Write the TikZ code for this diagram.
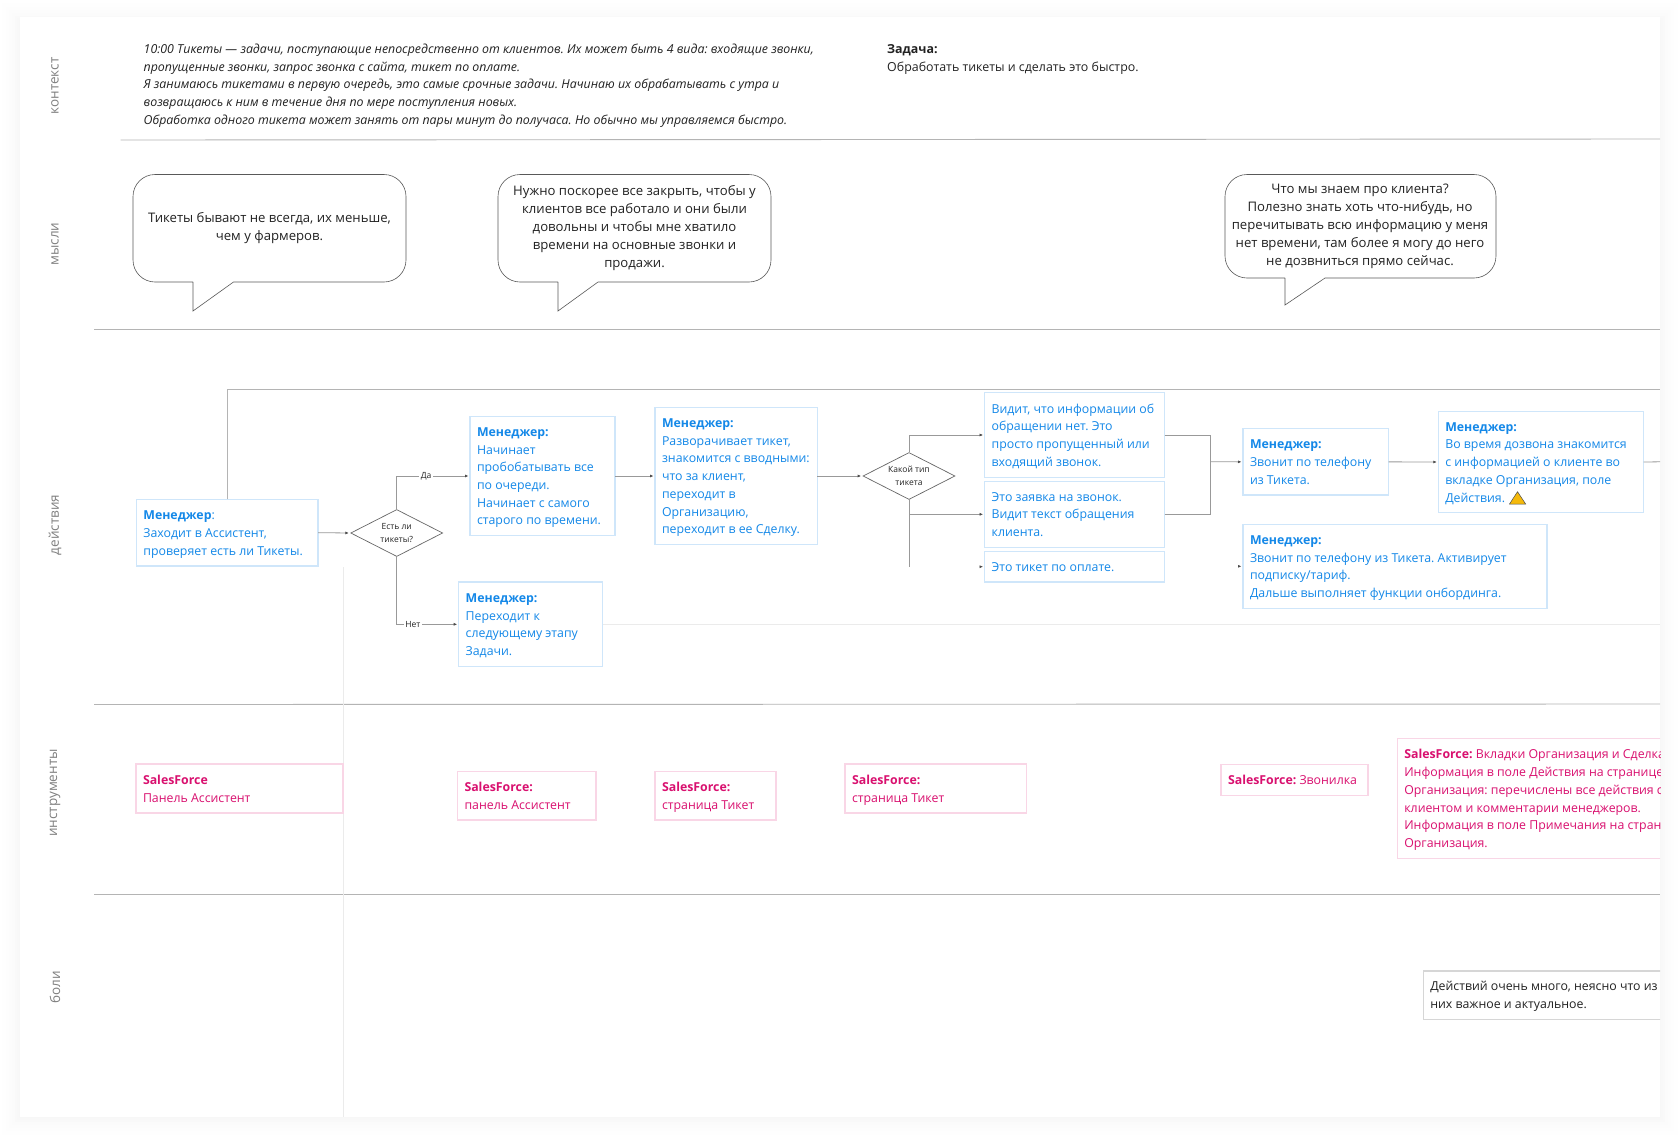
\documentclass[tikz,border=0pt]{standalone}
\usepackage{fontspec}
\setmainfont{Open Sans}
\usetikzlibrary{shapes.geometric,arrows.meta}
\frenchspacing
\definecolor{bluetxt}{HTML}{1488E8}
\definecolor{blueedge}{HTML}{CFE6FA}
\definecolor{pinktxt}{HTML}{D9106F}
\definecolor{pinkedge}{HTML}{F9D6E6}
\definecolor{darktxt}{HTML}{222222}
\definecolor{linegray}{HTML}{999999}
\definecolor{rulegray}{HTML}{B4B4B4}
\definecolor{faint}{HTML}{EBEBEB}
\definecolor{warnfill}{HTML}{F5B90A}
\newcommand{\bx}[7]{%
  \pgfmathsetmacro{\bxw}{#5-#3}%
  \pgfmathsetmacro{\bxh}{#6-#4}%
  \pgfmathsetmacro{\bxt}{#5-#3-14}%
  \node[#2,anchor=north west,minimum width=\bxw pt,minimum height=\bxh pt] (#1) at (#3,#4) {\makebox[\bxt pt][l]{\raisebox{-1.1pt}[\height][\depth]{\begin{tabular}{@{}l@{}}#7\end{tabular}}}};}
\tikzset{
  boxbase/.style={draw,line width=1.1pt,inner xsep=7pt,inner ysep=0pt,outer sep=0pt,font=\fontsize{12.33}{17.7}\selectfont},
  mgr/.style={boxbase,draw=blueedge,text=bluetxt},
  tool/.style={boxbase,draw=pinkedge,text=pinktxt},
  pain/.style={boxbase,draw=black!16,text=darktxt},
  rowlabel/.style={rotate=90,text=black!50,font=\fontsize{13.5}{16}\selectfont},
  thought/.style={align=center,text=darktxt,font=\fontsize{13.15}{18}\selectfont},
  bubble/.style={draw=black!65,line width=0.6pt,fill=white},
  rowrule/.style={draw=rulegray,line width=0.9pt},
  conn/.style={draw=linegray,line width=0.8pt},
  toprule/.style={draw=rulegray,line width=0.9pt},
  arr/.style={conn,-{Latex[length=3.5pt,width=3pt,color=black!70]},shorten >=1.5pt},
  choice/.style={diamond,draw=black!60,line width=0.7pt,aspect=2,inner sep=0pt,minimum width=92pt,minimum height=47pt,align=center,text=darktxt,font=\fontsize{8.5}{13}\selectfont,fill=white},
  branch/.style={fill=white,text=darktxt,inner sep=1.5pt,font=\fontsize{8.5}{10}\selectfont},
}
\begin{document}
\begin{tikzpicture}[x=1pt,y=-1pt]
\useasboundingbox (0,0) rectangle (1680,1141);
\fill[white] (0,0) rectangle (1680,1141);
% soft panel shadow
\foreach \o/\c in {18/99.6,14/99.2,11/98.8,8/98.3,5/97.8,3/97.3,1/96.8}{
  \fill[color=white!\c!black] (20-\o,17-\o+4) rectangle (1660+\o,1117+\o);
}
\fill[white] (20,17) rectangle (1660,1117);

\begin{scope}
\clip (20,17) rectangle (1660,1117);

% rows
\coordinate (r1a) at (120.5,140); \coordinate (r1b) at (1660,139);
\coordinate (r2a) at (94,329.5);  \coordinate (r2b) at (1660,329.5);
\coordinate (r3a) at (94,704.5);  \coordinate (r3b) at (1660,704);
\coordinate (r4a) at (94,894);    \coordinate (r4b) at (1660,894);
\draw[rowrule] (r1a) -- (r1b);
\draw[rowrule] (r2a) -- (r2b);
\draw[rowrule] (r3a) -- (r3b);
\draw[rowrule] (r4a) -- (r4b);
\coordinate (va) at (343,567); \coordinate (vb) at (343,1117);
\draw[draw=faint,line width=0.8pt] (va) -- (vb);

% row labels
\node[rowlabel] (lbl1) at (55,86) {контекст};
\node[rowlabel] (lbl2) at (55,244) {мысли};
\node[rowlabel] (lbl3) at (55,525) {действия};
\node[rowlabel] (lbl4) at (55,793) {инструменты};
\node[rowlabel] (lbl5) at (55,987) {боли};

% context
\node[anchor=west,align=left,text=darktxt,inner sep=0pt,font=\fontsize{12.36}{17.8}\selectfont\itshape] (ctx) at (143.5,85.7) {10:00 Тикеты — задачи, поступающие непосредственно от клиентов. Их может быть 4 вида: входящие звонки,\\
пропущенные звонки, запрос звонка с сайта, тикет по оплате.\\
Я занимаюсь тикетами в первую очередь, это самые срочные задачи. Начинаю их обрабатывать с утра и\\
возвращаюсь к ним в течение дня по мере поступления новых.\\
Обработка одного тикета может занять от пары минут до получаса. Но обычно мы управляемся быстро.};
\node[anchor=west,align=left,text=darktxt,inner sep=0pt,font=\fontsize{12.4}{17.7}\selectfont] (task) at (887,59.3) {\textbf{Задача:}\\Обработать тикеты и сделать это быстро.};

% thoughts
\draw[bubble] (193,282) -- (193,311) -- (233.5,282) [rounded corners=22pt] -- (406,282) -- (406,174.5) -- (133,174.5) -- (133,282) -- (193,282);
\node[thought] (th1) at (269.5,228.5) {Тикеты бывают не всегда, их меньше,\\чем у фармеров.};
\draw[bubble] (558,282) -- (558,311) -- (598,282) [rounded corners=22pt] -- (771,282) -- (771,174.5) -- (498,174.5) -- (498,282) -- (558,282);
\node[thought] (th2) at (634.5,228.3) {Нужно поскорее все закрыть, чтобы у\\клиентов все работало и они были\\довольны и чтобы мне хватило\\времени на основные звонки и\\продажи.};
\draw[bubble] (1285,278) -- (1285,305) -- (1325,278) [rounded corners=22pt] -- (1496,278) -- (1496,174.5) -- (1225,174.5) -- (1225,278) -- (1285,278);
\node[thought] (th3) at (1360,226.8) {Что мы знаем про клиента?\\Полезно знать хоть что-нибудь, но\\перечитывать всю информацию у меня\\нет времени, там более я могу до него\\не дозвниться прямо сейчас.};

% action boxes
\bx{a1}{mgr}{136.4}{499.3}{318}{566}{\textbf{Менеджер}:\\Заходит в Ассистент,\\проверяет есть ли Тикеты.}
\bx{a2}{mgr}{470}{416.7}{615}{535.3}{\textbf{Менеджер:}\\Начинает\\пробобатывать все\\по очереди.\\Начинает с самого\\старого по времени.}
\bx{a3}{mgr}{655}{407.7}{817.4}{544.3}{\textbf{Менеджер:}\\Разворачивает тикет,\\знакомится с вводными:\\что за клиент,\\переходит в\\Организацию,\\переходит в ее Сделку.}
\bx{an}{mgr}{458.7}{582}{602.7}{666.6}{\textbf{Менеджер:}\\Переходит к\\следующему этапу\\Задачи.}
\bx{t1}{mgr}{984.6}{392.7}{1164.6}{477.3}{Видит, что информации об\\обращении нет. Это\\просто пропущенный или\\входящий звонок.}
\bx{t2}{mgr}{984.6}{481.3}{1164.6}{547.3}{Это заявка на звонок.\\Видит текст обращения\\клиента.}
\bx{t3}{mgr}{984.6}{551.3}{1164.6}{582}{Это тикет по оплате.}
\bx{r1}{mgr}{1243}{428.7}{1388.5}{495}{\textbf{Менеджер:}\\Звонит по телефону\\из Тикета.}
\bx{r2}{mgr}{1438.3}{411.3}{1643.5}{512.7}{\textbf{Менеджер:}\\Во время дозвона знакомится\\с информацией о клиенте во\\вкладке Организация, поле\\Действия.}
\bx{r3}{mgr}{1243}{524.3}{1547}{608.3}{\textbf{Менеджер:}\\Звонит по телефону из Тикета. Активирует\\подписку/тариф.\\Дальше выполняет функции онбординга.}
\draw[draw=black!70,fill=warnfill,line width=0.5pt] (1509.5,504) -- (1517.5,491.7) -- (1525.6,504) -- cycle;

% decisions
\node[choice] (d1) at (396.7,533) {Есть ли\\тикеты?};
\node[choice] (d2) at (909,476) {Какой тип\\тикета};

% connectors
\coordinate (topend) at (1660,389);
\draw[toprule] (a1.north) |- (topend);
\draw[arr] (a1.east) -- (d1.west);
\draw[arr] (d1.north) |- node[branch,pos=0.70] (lyes) {Да} (a2.west);
\draw[arr] (d1.south) |- node[branch,pos=0.63] (lno) {Нет} (an.west);
\draw[arr] (a2.east) -- (a3.west);
\draw[arr] (a3.east) -- (d2.west);
\draw[arr] (d2.north) |- (t1.west);
\draw[arr] (d2.south) |- (t2.west);
\coordinate (t3end) at (909,566.7);
\draw[conn] (d2.south) -- (t3end);
\coordinate (t3stub) at (981,566.7);
\draw[arr] (t3stub) -- (t3.west);
\coordinate (merge) at (1210.5,461.8);
\draw[conn] (t1.east) -| (merge);
\draw[conn] (t2.east) -| (merge);
\draw[arr] (merge) -- (r1.west);
\draw[arr] (r1.east) -- (r2.west);
\coordinate (r2end) at (1660,461.8);
\draw[conn] (r2.east) -- (r2end);
\coordinate (r3stub) at (1239,566.3);
\draw[arr] (r3stub) -- (r3.west);
\coordinate (fainte) at (1660,624.3);
\draw[draw=faint,line width=0.6pt] (an.east) -- (fainte);

% tools
\bx{s1}{tool}{136}{764}{343}{813}{\textbf{SalesForce}\\Панель Ассистент}
\bx{s2}{tool}{457.5}{771.5}{596}{820}{\textbf{SalesForce:}\\панель Ассистент}
\bx{s3}{tool}{655}{771.5}{776}{820}{\textbf{SalesForce:}\\страница Тикет}
\bx{s4}{tool}{845}{764}{1026.5}{813}{\textbf{SalesForce:}\\страница Тикет}
\bx{s5}{tool}{1221}{764.3}{1368}{795.7}{\textbf{SalesForce:} Звонилка}
\bx{s6}{tool}{1397.3}{738.7}{1760}{858.3}{\textbf{SalesForce:} Вкладки Организация и Сделка\\Информация в поле Действия на странице\\Организация: перечислены все действия с\\клиентом и комментарии менеджеров.\\Информация в поле Примечания на странице\\Организация.}

% pains
\bx{p1}{pain}{1423.3}{971}{1760}{1019.3}{Действий очень много, неясно что из\\них важное и актуальное.}
\end{scope}
\end{tikzpicture}
\end{document}
